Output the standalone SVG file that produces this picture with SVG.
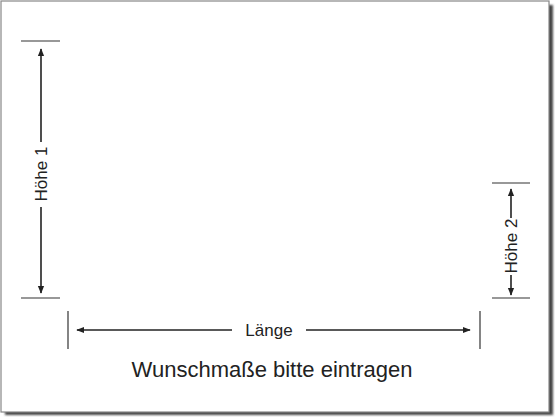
<svg xmlns="http://www.w3.org/2000/svg" width="560" height="420" viewBox="0 0 560 420">
<defs>
<marker id="ah" viewBox="0 0 10 10" refX="9" refY="5" markerWidth="8" markerHeight="8" markerUnits="userSpaceOnUse" orient="auto-start-reverse">
<path d="M0,1 L10,5 L0,9 z" fill="#222"/>
</marker>
<filter id="blur" x="-5%" y="-5%" width="110%" height="110%"><feGaussianBlur stdDeviation="1"/></filter>
</defs>
<style>
.ln{stroke:#333;stroke-width:1.2;fill:none}
.ar{stroke:#222;stroke-width:1.6;fill:none}
.t{font-family:"Liberation Sans",Arial,sans-serif;fill:#222}
</style>
<rect width="560" height="420" fill="#fff"/>
<rect x="5" y="5" width="548" height="410" fill="#444" filter="url(#blur)"/>
<rect x="1" y="1" width="548" height="411" fill="#fff" stroke="#888" stroke-width="1.2"/>
<g id="connectors">
<line class="ln" x1="21" y1="41" x2="60" y2="41"/>
<line class="ln" x1="21" y1="298" x2="60" y2="298"/>
<line class="ar" x1="41" y1="142" x2="41" y2="49" marker-end="url(#ah)"/>
<line class="ar" x1="41" y1="207" x2="41" y2="293" marker-end="url(#ah)"/>
<line class="ln" x1="492" y1="183" x2="530" y2="183"/>
<line class="ln" x1="492" y1="298" x2="530" y2="298"/>
<line class="ar" x1="511" y1="218" x2="511" y2="189" marker-end="url(#ah)"/>
<line class="ar" x1="511" y1="275" x2="511" y2="295" marker-end="url(#ah)"/>
<line class="ln" x1="68" y1="311" x2="68" y2="349"/>
<line class="ln" x1="480" y1="311" x2="480" y2="349"/>
<line class="ar" x1="232" y1="330" x2="77" y2="330" marker-end="url(#ah)"/>
<line class="ar" x1="306" y1="330" x2="470" y2="330" marker-end="url(#ah)"/>
</g>
<g id="hoehe1"><text class="t" x="0" y="0" font-size="17" text-anchor="middle" transform="translate(47,174) rotate(-90)">Höhe 1</text></g>
<g id="hoehe2"><text class="t" x="0" y="0" font-size="17" text-anchor="middle" transform="translate(517,246) rotate(-90)">Höhe 2</text></g>
<g id="laenge"><text class="t" x="269" y="336" font-size="17" text-anchor="middle">Länge</text></g>
<g id="caption"><text class="t" x="272" y="377" font-size="22" text-anchor="middle">Wunschmaße bitte eintragen</text></g>
</svg>
